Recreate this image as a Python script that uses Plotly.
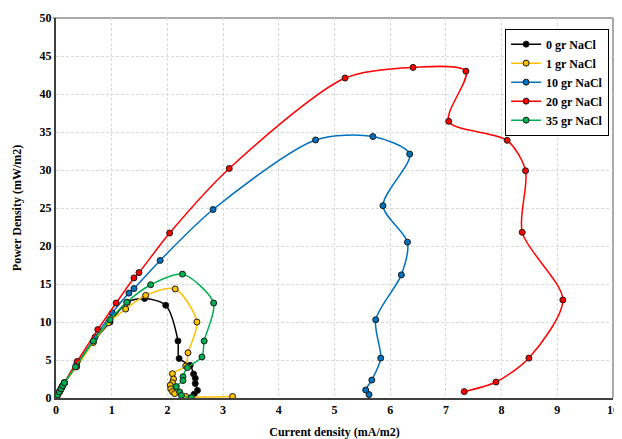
import plotly.graph_objects as go

near_x = [0, 0.03, 0.06, 0.09, 0.12, 0.15]
near_y = [0, 0.4, 0.8, 1.2, 1.6, 2.0]

x_0 = near_x + [0.37, 0.67, 0.97, 1.28, 1.59, 1.97, 2.19, 2.21, 2.41, 2.47, 2.50, 2.50, 2.54, 2.48, 2.44]
y_0 = near_y + [4.2, 7.4, 10.0, 12.6, 13.1, 12.2, 7.5, 5.2, 4.3, 3.15, 2.6, 1.9, 1.0, 0.5, 0.1]

x_1 = near_x + [0.37, 0.67, 0.94, 1.25, 1.61, 2.14, 2.53, 2.37, 2.33, 2.09, 2.11, 2.09, 2.05, 2.06, 2.09, 2.13, 2.33, 3.17]
y_1 = near_y + [4.1, 7.3, 9.9, 11.7, 13.5, 14.35, 10.0, 5.95, 4.2, 3.2, 2.5, 2.0, 1.67, 1.2, 0.84, 0.58, 0.2, 0.2]

x_10 = near_x + [0.37, 0.70, 1.01, 1.31, 1.40, 1.87, 2.82, 4.66, 5.69, 6.35, 5.87, 6.31, 6.20, 5.74, 5.83, 5.67, 5.56, 5.62]
y_10 = near_y + [4.4, 8.0, 11.2, 13.8, 14.4, 18.1, 24.8, 33.95, 34.4, 32.1, 25.3, 20.5, 16.2, 10.3, 5.25, 2.36, 1.05, 0.45]

x_20 = near_x + [0.38, 0.75, 1.08, 1.40, 1.49, 2.04, 3.11, 5.19, 6.41, 7.36, 7.05, 8.10, 8.43, 8.37, 9.10, 8.49, 7.90, 7.33]
y_20 = near_y + [4.8, 9.0, 12.5, 15.8, 16.5, 21.7, 30.2, 42.1, 43.5, 43.0, 36.4, 33.9, 29.9, 21.8, 12.9, 5.25, 2.1, 0.84]

x_35 = near_x + [0.35, 0.67, 0.97, 1.27, 1.70, 2.27, 2.83, 2.66, 2.62, 2.36, 2.28, 2.28, 2.16, 2.22, 2.25, 2.43]
y_35 = near_y + [4.1, 7.5, 10.3, 12.6, 14.9, 16.3, 12.5, 7.5, 5.4, 4.0, 2.8, 2.3, 1.5, 0.8, 0.35, 0.05]

series = [
    ("0 gr NaCl", x_0, y_0, "#000000"),
    ("1 gr NaCl", x_1, y_1, "#FFC000"),
    ("10 gr NaCl", x_10, y_10, "#0070C0"),
    ("20 gr NaCl", x_20, y_20, "#FF0000"),
    ("35 gr NaCl", x_35, y_35, "#00B050"),
]

FONT = "Liberation Serif, Times New Roman, serif"

fig = go.Figure()
for name, xs, ys, col in series:
    fig.add_trace(go.Scatter(
        x=xs, y=ys, name=name, mode="lines+markers",
        line=dict(color=col, width=1.5, shape="spline", smoothing=0.8),
        marker=dict(color=col, size=6, line=dict(color="#1a1a1a", width=1)),
    ))

axis_common = dict(
    showgrid=True, gridcolor="#d9d9d9", griddash="3px,2px", gridwidth=1,
    showline=True, linecolor="#404040", linewidth=2, mirror=False,
    zeroline=False, ticks="",
    tickfont=dict(family=FONT, size=12, color="#000000", weight="bold"),
    automargin=False,
)

fig.update_xaxes(range=[0, 10], dtick=1,
                 title=dict(text="Current density (mA/m2)", font=dict(family=FONT, size=12, color="#000", weight="bold")),
                 **axis_common)
fig.update_yaxes(range=[0, 50], dtick=5,
                 title=dict(text="Power Density (mW/m2)", font=dict(family=FONT, size=12, color="#000", weight="bold")),
                 **axis_common)

# light frame on top and right edges of the plot area
fig.add_shape(type="line", xref="x domain", yref="y domain", x0=-0.006, x1=1, y0=1, y1=1,
              line=dict(color="#8c8c8c", width=1.5), layer="below")
fig.add_shape(type="line", xref="x domain", yref="y domain", x0=1, x1=1, y0=0, y1=1,
              line=dict(color="#8c8c8c", width=1.5), layer="below")

fig.update_layout(
    width=614, height=431,
    margin=dict(l=48, r=9, t=10, b=41),
    paper_bgcolor="white", plot_bgcolor="white",
    font=dict(family=FONT, size=12, color="#000"),
    legend=dict(
        x=0.993, y=0.972, xanchor="right", yanchor="top",
        bordercolor="#000000", borderwidth=1, bgcolor="white",
        font=dict(family=FONT, size=12, color="#000", weight="bold"),
        itemwidth=30, tracegroupgap=0,
    ),
)

fig.write_html("out.html")
